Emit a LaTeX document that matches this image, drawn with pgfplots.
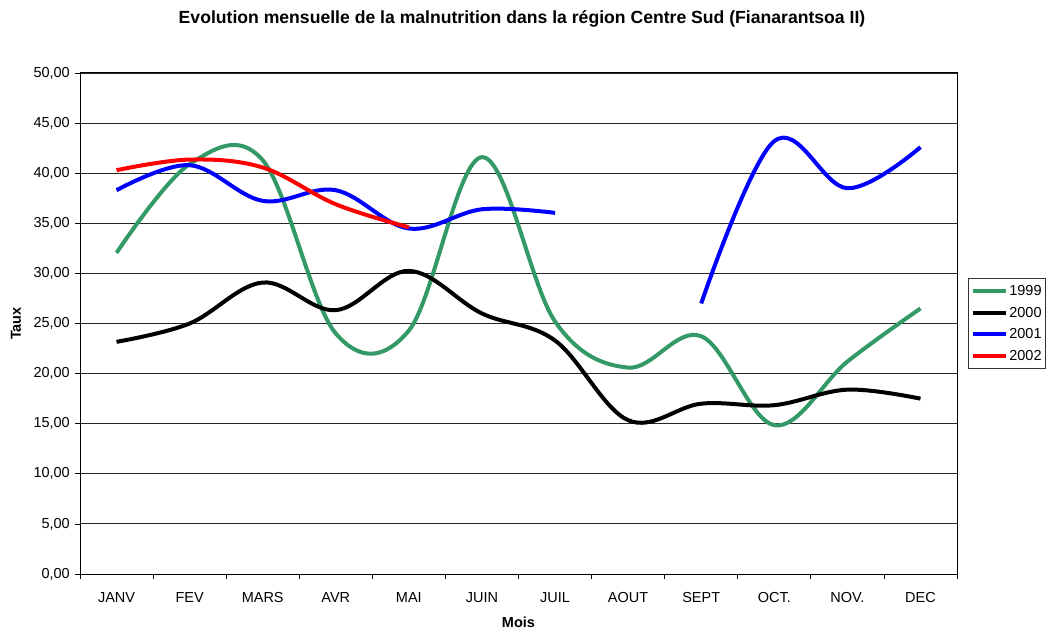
\documentclass[border=0pt]{standalone}
\usepackage{pgfplots}
\pgfplotsset{compat=1.18}
\usepackage{fontspec}
\setmainfont{Liberation Sans}
\definecolor{vert}{RGB}{51,153,102}
\begin{document}
\begin{tikzpicture}
\useasboundingbox (0,0) rectangle (1046pt,630pt);
\begin{axis}[
  at={(80pt,56pt)}, anchor=south west,
  scale only axis, width=877pt, height=501pt,
  xmin=0.5, xmax=12.5, ymin=0, ymax=50,
  xtick={1,...,12},
  xticklabels={JANV,FEV,MARS,AVR,MAI,JUIN,JUIL,AOUT,SEPT,OCT.,NOV.,DEC},
  minor xtick={0.5,1.5,...,12.5},
  major x tick style={draw=none},
  minor x tick style={black, line width=0.8pt},
  ytick={0,5,...,50},
  y tick style={black, line width=0.8pt},
  tick align=outside, tick pos=left,
  major tick length=5pt, minor tick length=5pt,
  ymajorgrids, grid style={black!85, line width=0.9pt},
  axis line style={black, line width=1pt},
  yticklabel style={font=\fontsize{14.5}{17}\selectfont, inner sep=0pt, xshift=-5pt},
  xticklabel style={font=\fontsize{14.5}{17}\selectfont, inner sep=0pt, yshift=-13pt},
  /pgf/number format/.cd, fixed, fixed zerofill, precision=2, use comma, assume math mode=true,
  /pgfplots/.cd,
  xlabel={\textbf{Mois}}, ylabel={\textbf{Taux}},
  xlabel style={font=\fontsize{14.5}{17}\selectfont, at={(axis description cs:0.5,-0.0958)}, anchor=center},
  ylabel style={font=\fontsize{14.5}{17}\selectfont, at={(axis description cs:-0.073,0.5)}, anchor=center},
  legend style={at={(1.0125,0.5)}, anchor=west, draw=black!80, line width=0.8pt,
    font=\fontsize{14.5}{17}\selectfont, inner xsep=3pt, inner ysep=6pt, row sep=8pt,
    nodes={inner sep=1pt}},
  legend cell align=left,
  legend image code/.code={\draw[#1, line width=4pt] (0pt,0pt) -- (33pt,0pt);},
  every axis plot/.append style={line width=4pt, smooth, tension=0.6, no markers},
]
\addplot[vert] coordinates {(1,32.05) (2,40.9) (3,41.3) (4,24.0) (5,24.3) (6,41.6) (7,25.2) (8,20.6) (9,23.73) (10,14.85) (11,21.2) (12,26.5)};
\addlegendentry{1999}
\addplot[black] coordinates {(1,23.17) (2,25.0) (3,29.09) (4,26.33) (5,30.25) (6,26.0) (7,23.3) (8,15.35) (9,17.0) (10,16.85) (11,18.4) (12,17.5)};
\addlegendentry{2000}
\addplot[blue] coordinates {(1,38.3) (2,40.8) (3,37.24) (4,38.3) (5,34.48) (6,36.4) (7,36.04)};
\addlegendentry{2001}
\addplot[red] coordinates {(1,40.3) (2,41.36) (3,40.57) (4,36.9) (5,34.6)};
\addlegendentry{2002}
\addplot[blue, forget plot] coordinates {(9,27.0) (10,43.2) (11,38.5) (12,42.6)};
\end{axis}
\node[font=\bfseries\fontsize{17.6}{20}\selectfont] at (522pt,611pt) {Evolution mensuelle de la malnutrition dans la région Centre Sud (Fianarantsoa II)};
\end{tikzpicture}
\end{document}
